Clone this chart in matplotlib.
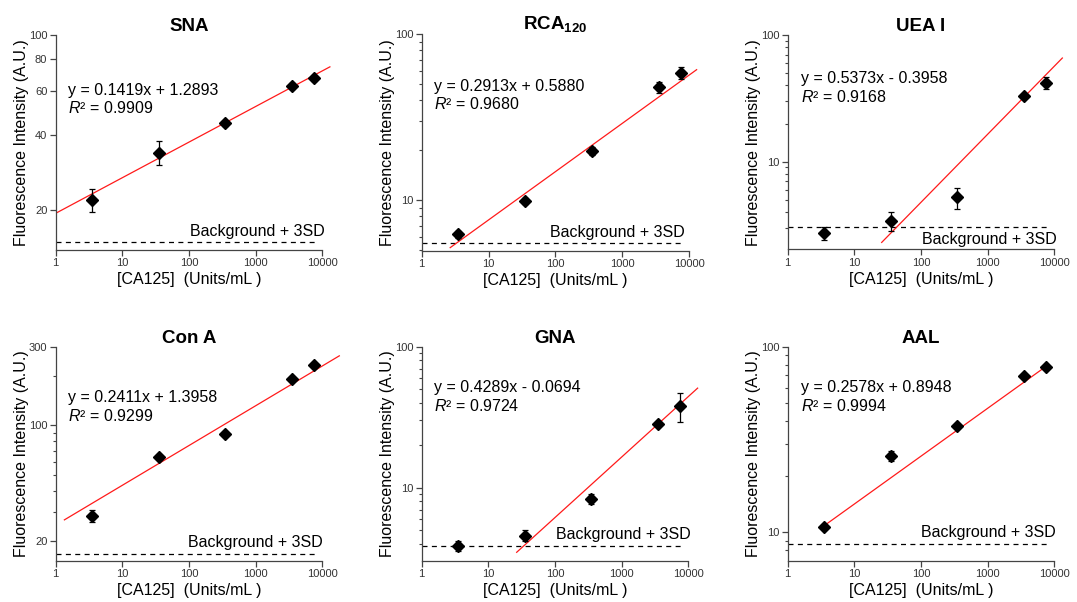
import numpy as np
import matplotlib.pyplot as plt
from matplotlib.ticker import FixedLocator, NullFormatter, LogLocator, FixedFormatter

plt.rcParams['font.family'] = ['Liberation Sans', 'DejaVu Sans']
plt.rcParams['mathtext.fontset'] = 'custom'
plt.rcParams['mathtext.rm'] = 'Liberation Sans'
plt.rcParams['mathtext.it'] = 'Liberation Sans:italic'
plt.rcParams['mathtext.bf'] = 'Liberation Sans:bold'

# CA125 concentrations (Units/mL)
conc = [3.5, 35, 350, 3500, 7500]

titles = ['SNA', r'RCA$_{\mathbf{120}}$', 'UEA I', 'Con A', 'GNA', 'AAL']

sna = [22.0, 34.0, 44.5, 62.6, 67.2]
sna_err = [2.3, 3.8, 1.0, 1.5, 1.5]
rca = [6.2, 9.9, 19.8, 47.9, 58.7]
rca_err = [0.3, 0.4, 1.2, 3.5, 5.0]
uea = [2.72, 3.40, 5.21, 33.0, 42.0]
uea_err = [0.33, 0.58, 0.95, 1.0, 4.5]
cona = [28.3, 64.5, 88.6, 191, 231]
cona_err = [2.2, 1.5, 2.5, 6.0, 6.0]
gna = [3.86, 4.57, 8.32, 28.2, 38.0]
gna_err = [0.32, 0.40, 0.65, 1.0, 9.0]
aal = [10.7, 25.9, 37.6, 69.8, 77.8]
aal_err = [0.2, 1.6, 0.8, 1.0, 1.0]

values = [sna, rca, uea, cona, gna, aal]
errors = [sna_err, rca_err, uea_err, cona_err, gna_err, aal_err]

# log-log linear fits: log y = slope * log x + intercept
slopes = [0.1419, 0.2913, 0.5373, 0.2411, 0.4289, 0.2578]
intercepts = [1.2893, 0.5880, -0.3958, 1.3958, -0.0694, 0.8948]
r2 = ['0.9909', '0.9680', '0.9168', '0.9299', '0.9724', '0.9994']
fit_ranges = [(1.05, 13000), (2.67, 13000), (25.7, 13200),
              (1.35, 18000), (26.6, 13800), (3.5, 7500)]

background = [14.9, 5.52, 3.03, 16.6, 3.86, 8.63]
ylims = [(13.9, 100), (4.94, 100), (2.03, 100), (15.06, 300), (3.02, 100), (7.01, 100)]
yticks = [[20, 40, 60, 80, 100], [10, 100], [10, 100], [20, 100, 300], [10, 100], [10, 100]]
xticks = [1, 10, 100, 1000, 10000]

W, H = 1077, 602
# axes boxes in pixels: left, top, right, bottom
boxes = [(55.7, 35, 322.3, 250), (421.7, 34.3, 689, 250.7), (787.7, 35, 1054.3, 249.3),
         (55.7, 346.7, 322.3, 561), (421.7, 346.7, 688.3, 561), (787.7, 346.7, 1054.3, 561)]
# annotation layout (axes fraction)
eq_pos = [(0.047, 0.741, 0.659), (0.045, 0.758, 0.678), (0.05, 0.795, 0.712),
          (0.047, 0.762, 0.678), (0.045, 0.81, 0.725), (0.05, 0.81, 0.725)]
bg_pos = [(1.01, 0.085), (0.985, 0.085), (1.009, 0.047),
          (1.0, 0.085), (1.01, 0.125), (1.006, 0.134)]

spine_c = '#444444'

fig = plt.figure(figsize=(W / 100, H / 100), dpi=100)

for i in range(6):
    l, t, r, b = boxes[i]
    ax = fig.add_axes([l / W, 1 - b / H, (r - l) / W, (b - t) / H])
    ax.set_xscale('log')
    ax.set_yscale('log')
    ax.set_xlim(1, 10000)
    ax.set_ylim(*ylims[i])

    # fit line
    xf = np.logspace(np.log10(fit_ranges[i][0]), np.log10(fit_ranges[i][1]), 50)
    yf = 10 ** (slopes[i] * np.log10(xf) + intercepts[i])
    ax.plot(xf, yf, color='#ff1a1a', lw=0.9, clip_on=False, zorder=2)

    # data points
    ax.errorbar(conc, values[i], yerr=errors[i], fmt='D', color='black', ms=6.5,
                ecolor='black', elinewidth=0.9, capsize=2.5, capthick=0.9, zorder=3)

    # background + 3SD
    ax.axhline(background[i], xmin=0, xmax=0.98, color='black', lw=0.9,
               ls=(0, (4, 3.5)), zorder=1)
    ax.text(bg_pos[i][0], bg_pos[i][1], 'Background + 3SD', transform=ax.transAxes,
            ha='right', va='center', fontsize=11.5)

    sign = '+' if intercepts[i] >= 0 else '-'
    ax.text(eq_pos[i][0], eq_pos[i][1],
            'y = %.4fx %s %.4f' % (slopes[i], sign, abs(intercepts[i])),
            transform=ax.transAxes, ha='left', va='center', fontsize=11.5)
    ax.text(eq_pos[i][0], eq_pos[i][2], r'$R$² = ' + r2[i],
            transform=ax.transAxes, ha='left', va='center', fontsize=11.5)

    ax.set_title(titles[i], fontsize=13.5, fontweight='bold', pad=3)
    ax.set_xlabel('[CA125]  (Units/mL )', fontsize=11.5, labelpad=3)
    ax.set_ylabel('Fluorescence Intensity (A.U.)', fontsize=11.5, labelpad=0)

    ax.xaxis.set_major_locator(FixedLocator(xticks))
    ax.xaxis.set_major_formatter(FixedFormatter([str(v) for v in xticks]))
    ax.xaxis.set_minor_locator(FixedLocator([]))
    ax.yaxis.set_major_locator(FixedLocator(yticks[i]))
    ax.yaxis.set_major_formatter(FixedFormatter([str(v) for v in yticks[i]]))
    if i == 0:
        ax.yaxis.set_minor_locator(FixedLocator([]))
    elif i == 3:
        ax.yaxis.set_minor_locator(FixedLocator([30, 40, 50, 60, 70, 80, 90, 200]))
    else:
        ax.yaxis.set_minor_locator(LogLocator(base=10, subs=np.arange(2, 10)))
    ax.yaxis.set_minor_formatter(NullFormatter())

    for s in ['top', 'right']:
        ax.spines[s].set_visible(False)
    for s in ['left', 'bottom']:
        ax.spines[s].set_color(spine_c)
        ax.spines[s].set_linewidth(0.9)
    ax.tick_params(which='major', direction='out', length=4, width=0.9,
                   color=spine_c, labelsize=8, labelcolor='#333333', pad=2)
    ax.tick_params(which='minor', direction='out', length=2.5, width=0.8, color=spine_c)

fig.savefig('out.png', dpi=100)
